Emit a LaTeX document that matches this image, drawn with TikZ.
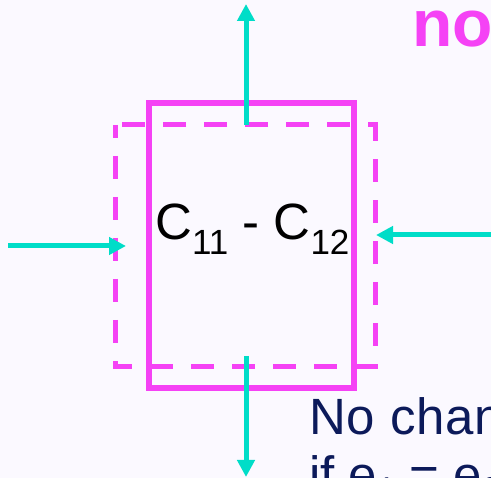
\documentclass[tikz,border=0pt]{standalone}
\usepackage{fontspec}
\setmainfont{Liberation Sans}
\usetikzlibrary{arrows.meta}
\definecolor{bgc}{RGB}{251,249,255}
\definecolor{mag}{RGB}{245,66,245}
\definecolor{teal2}{RGB}{0,221,200}
\definecolor{navy}{RGB}{12,26,90}
\tikzset{
  solidbox/.style={draw=mag,line width=6pt},
  dashbox/.style={draw=mag,line width=5pt,dash pattern=on 23pt off 18pt},
  flow/.style={draw=teal2,line width=5pt,-{Triangle[length=17pt,width=17pt]}},
}
\newcommand{\lowsub}[2]{\raisebox{#1}{\fontsize{35}{40}\selectfont #2}}
\begin{document}
\begin{tikzpicture}[x=1pt,y=-1pt]
\path[fill=bgc] (0,0) rectangle (491,478);
\useasboundingbox (0,0) rectangle (491,478);
\clip (0,0) rectangle (491,478);
% boxes
\draw[solidbox] (149,103) rectangle (354,388);
\draw[dashbox,dash phase=10pt] (115,125) rectangle (375,367);
% arrow anchors
\coordinate (tA) at (246,125);
\coordinate (tB) at (246,4);
\coordinate (bA) at (246,356);
\coordinate (bB) at (246,477);
\coordinate (lA) at (8,246);
\coordinate (lB) at (126,246);
\coordinate (rA) at (495,235);
\coordinate (rB) at (376,235);
\draw[flow] (tA) -- (tB);
\draw[flow] (bA) -- (bB);
\draw[flow] (lA) -- (lB);
\draw[flow] (rA) -- (rB);
% label
\node[anchor=base west,inner sep=0pt] (lbl) at (155,240)
  {\fontsize{51}{60}\selectfont C\lowsub{-15pt}{11} - C\lowsub{-15pt}{12}};
\node[anchor=base west,inner sep=0pt,text=mag] (no) at (412,47)
  {\fontsize{66}{80}\selectfont\bfseries no};
\node[anchor=base west,inner sep=0pt,text=navy] (nc) at (309,435)
  {\addfontfeatures{LetterSpace=1.5}\fontsize{51}{60}\selectfont No change};
\node[anchor=base west,inner sep=0pt,text=navy] (ifl) at (309,493)
  {\fontsize{51}{60}\selectfont if e\raisebox{-8pt}{\fontsize{33}{38}\selectfont 1} = e\raisebox{-8pt}{\fontsize{33}{38}\selectfont 2}};
\end{tikzpicture}
\end{document}
